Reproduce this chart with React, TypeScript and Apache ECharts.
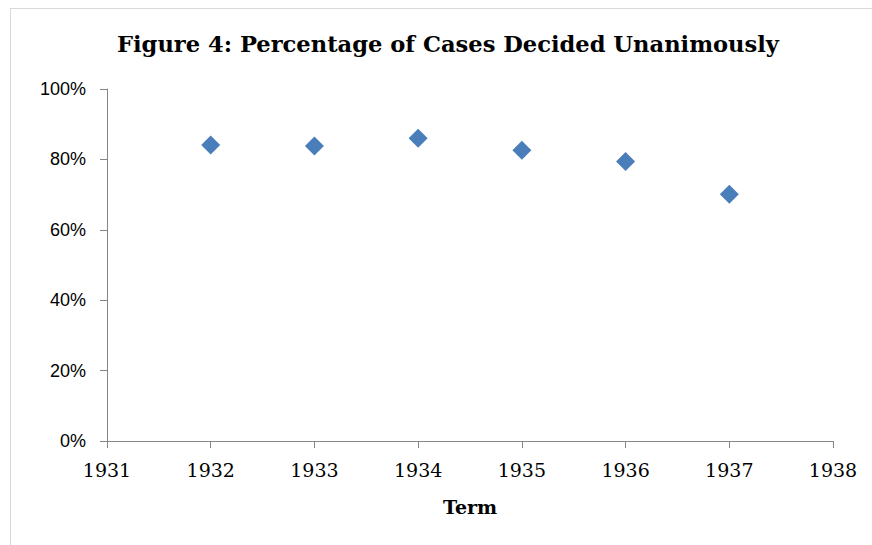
import React, { useEffect, useRef } from "react";
import * as echarts from "echarts";

const terms = [1932, 1933, 1934, 1935, 1936, 1937];
const unanimousPct = [84.1, 83.8, 86.0, 82.6, 79.4, 70.1];
const titleText = "Figure 4: Percentage of Cases Decided Unanimously";
const xName = "Term";

export default function App() {
  const ref = useRef<HTMLDivElement>(null);
  useEffect(() => {
    document.body.style.margin = "0";
    const chart = echarts.init(ref.current!, null, { renderer: "svg" });
    chart.setOption({
      animation: false,
      backgroundColor: "#ffffff",
      title: {
        text: titleText,
        left: 112,
        top: 27,
        textStyle: {
          fontFamily: "DejaVu Serif",
          fontWeight: "bold",
          fontSize: 22.6,
          color: "#000",
        },
      },
      graphic: [
        { type: "line", shape: { x1: 10, y1: 8.5, x2: 872, y2: 8.5 }, style: { stroke: "#d9d9d9", lineWidth: 1 } },
        { type: "line", shape: { x1: 10.5, y1: 8, x2: 10.5, y2: 545 }, style: { stroke: "#d9d9d9", lineWidth: 1 } },
      ],
      grid: { left: 107, right: 39, top: 89, bottom: 104, containLabel: false },
      xAxis: {
        type: "value",
        min: 1931,
        max: 1938,
        interval: 1,
        name: xName,
        nameLocation: "middle",
        nameGap: 56,
        nameTextStyle: { fontFamily: "DejaVu Serif", fontWeight: "bold", fontSize: 19, color: "#000" },
        axisLine: { show: true, lineStyle: { color: "#868686", width: 1 } },
        axisTick: { show: true, inside: false, length: 7, lineStyle: { color: "#868686" } },
        splitLine: { show: false },
        axisLabel: {
          margin: 19,
          fontFamily: "DejaVu Serif",
          fontSize: 19,
          color: "#000",
          formatter: (v: number) => String(v),
        },
      },
      yAxis: {
        type: "value",
        min: 0,
        max: 100,
        interval: 20,
        axisLine: { show: true, lineStyle: { color: "#868686", width: 1 } },
        axisTick: { show: true, inside: false, length: 7, lineStyle: { color: "#868686" } },
        splitLine: { show: false },
        axisLabel: {
          margin: 21,
          fontFamily: "Liberation Sans",
          fontSize: 18,
          color: "#000",
          formatter: (v: number) => v + "%",
        },
      },
      series: [
        {
          type: "scatter",
          symbol: "diamond",
          symbolSize: [19, 19],
          itemStyle: { color: "#4a7ebb", opacity: 1 },
          data: terms.map((t, i) => [t, unanimousPct[i]]),
        },
      ],
    });
    return () => chart.dispose();
  }, []);
  return <div ref={ref} style={{ width: 872, height: 545 }} />;
}
